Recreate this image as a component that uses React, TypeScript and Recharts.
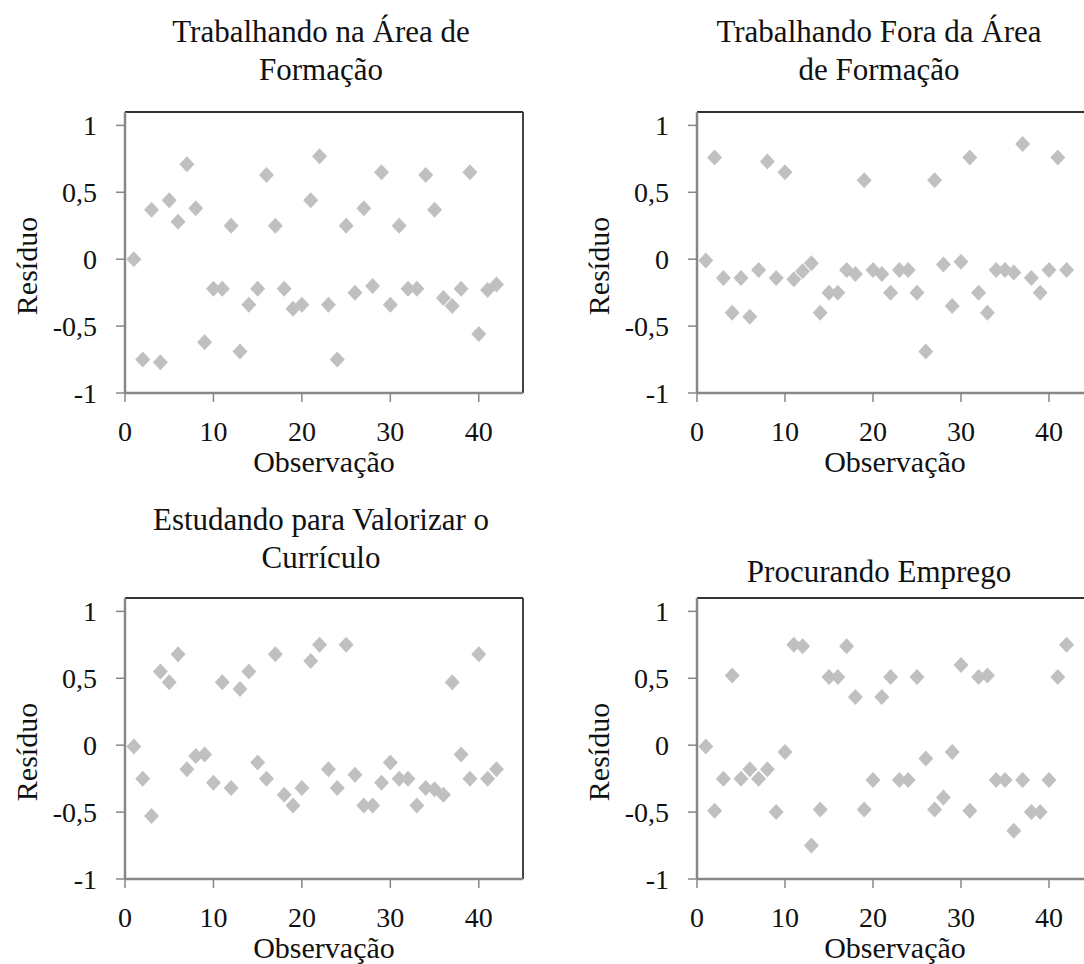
import { ScatterChart, Scatter, XAxis, YAxis, ReferenceLine, Label } from 'recharts';

// observation number (1..42), shared by the four panels
const OBS = [
  1, 2, 3, 4, 5, 6, 7, 8, 9, 10, 11, 12, 13, 14, 15, 16, 17, 18, 19, 20, 21,
  22, 23, 24, 25, 26, 27, 28, 29, 30, 31, 32, 33, 34, 35, 36, 37, 38, 39, 40, 41, 42,
];

const RES_AREA = [
  0, -0.75, 0.37, -0.77, 0.44, 0.28, 0.71, 0.38, -0.62, -0.22,
  -0.22, 0.25, -0.69, -0.34, -0.22, 0.63, 0.25, -0.22, -0.37, -0.34,
  0.44, 0.77, -0.34, -0.75, 0.25, -0.25, 0.38, -0.2, 0.65, -0.34,
  0.25, -0.22, -0.22, 0.63, 0.37, -0.29, -0.35, -0.22, 0.65, -0.56,
  -0.23, -0.19,
];

const RES_FORA = [
  -0.01, 0.76, -0.14, -0.4, -0.14, -0.43, -0.08, 0.73, -0.14, 0.65,
  -0.15, -0.09, -0.03, -0.4, -0.25, -0.25, -0.08, -0.11, 0.59, -0.08,
  -0.11, -0.25, -0.08, -0.08, -0.25, -0.69, 0.59, -0.04, -0.35, -0.02,
  0.76, -0.25, -0.4, -0.08, -0.08, -0.1, 0.86, -0.14, -0.25, -0.08,
  0.76, -0.08,
];

const RES_ESTUDO = [
  -0.01, -0.25, -0.53, 0.55, 0.47, 0.68, -0.18, -0.08, -0.07, -0.28,
  0.47, -0.32, 0.42, 0.55, -0.13, -0.25, 0.68, -0.37, -0.45, -0.32,
  0.63, 0.75, -0.18, -0.32, 0.75, -0.22, -0.45, -0.45, -0.28, -0.13,
  -0.25, -0.25, -0.45, -0.32, -0.33, -0.37, 0.47, -0.07, -0.25, 0.68,
  -0.25, -0.18,
];

const RES_PROCURA = [
  -0.01, -0.49, -0.25, 0.52, -0.25, -0.18, -0.25, -0.18, -0.5, -0.05,
  0.75, 0.74, -0.75, -0.48, 0.51, 0.51, 0.74, 0.36, -0.48, -0.26,
  0.36, 0.51, -0.26, -0.26, 0.51, -0.1, -0.48, -0.39, -0.05, 0.6,
  -0.49, 0.51, 0.52, -0.26, -0.26, -0.64, -0.26, -0.5, -0.5, -0.26,
  0.51, 0.75,
];

const X_TICKS = [0, 10, 20, 30, 40];
const Y_TICKS = [-1, -0.5, 0, 0.5, 1];

const FONT = '"Liberation Serif", "Times New Roman", serif';
const AXIS = '#878787';
const MARKER = '#c0c0c0';

const fmt = (v: number) => String(v).replace('.', ',');

const Diamond = (props: any) => {
  const { cx, cy } = props;
  if (cx == null || cy == null) return null;
  return (
    <polygon
      points={`${cx},${cy - 8} ${cx + 7.5},${cy} ${cx},${cy + 8} ${cx - 7.5},${cy}`}
      fill={MARKER}
    />
  );
};

const ResiduoLabel = () => (
  <text
    x={26}
    y={266}
    transform="rotate(-90 26 266)"
    textAnchor="middle"
    dominantBaseline="central"
    fontFamily={FONT}
    fontSize={30}
    fill="#111"
  >
    Resíduo
  </text>
);

interface PanelProps {
  title: string[];
  values: number[];
  left: number;
  top: number;
  width: number;
  rightMargin: number;
  titleTop: number;
  titleCenter: number;
}

function Panel({ title, values, left, top, width, rightMargin, titleTop, titleCenter }: PanelProps) {
  const data = OBS.map((x, i) => ({ x, y: values[i] }));
  return (
    <>
      <div
        style={{
          position: 'absolute',
          left: titleCenter - 250,
          top: titleTop,
          width: 500,
          textAlign: 'center',
          fontFamily: FONT,
          fontSize: 31,
          lineHeight: '38px',
          color: '#111',
        }}
      >
        {title.map((t) => (
          <div key={t}>{t}</div>
        ))}
      </div>
      <div style={{ position: 'absolute', left, top }}>
        <ScatterChart
          width={width}
          height={480}
          margin={{ top: 112, right: rightMargin, bottom: 0, left: 0 }}
        >
          <XAxis
            type="number"
            dataKey="x"
            domain={[0, 45]}
            ticks={X_TICKS}
            height={87}
            axisLine={{ stroke: AXIS, strokeWidth: 2.5 }}
            tickLine={{ stroke: AXIS, strokeWidth: 1.5 }}
            tickSize={9}
            tickMargin={19}
            tick={{ fill: '#111', fontSize: 28, fontFamily: FONT }}
          >
            <Label
              value="Observação"
              position="insideBottom"
              offset={8}
              style={{ fill: '#111', fontSize: 30, fontFamily: FONT }}
            />
          </XAxis>
          <YAxis
            type="number"
            dataKey="y"
            domain={[-1, 1.1]}
            ticks={Y_TICKS}
            width={125}
            allowDataOverflow
            axisLine={{ stroke: AXIS, strokeWidth: 2.5 }}
            tickLine={{ stroke: AXIS, strokeWidth: 1.5 }}
            tickSize={9}
            tickMargin={19}
            tickFormatter={fmt}
            tick={{ fill: '#111', fontSize: 28, fontFamily: FONT }}
          >
            <Label content={<ResiduoLabel />} />
          </YAxis>
          <ReferenceLine y={1.1} stroke="#333" strokeWidth={2} />
          <ReferenceLine x={45} stroke="#444" strokeWidth={2} />
          <Scatter data={data} shape={Diamond} isAnimationActive={false} />
        </ScatterChart>
      </div>
    </>
  );
}

export default function App() {
  return (
    <div
      style={{
        position: 'absolute',
        left: 0,
        top: 0,
        width: 1084,
        height: 964,
        overflow: 'hidden',
        background: '#fff',
      }}
    >
      <Panel
        title={['Trabalhando na Área de', 'Formação']}
        values={RES_AREA}
        left={0}
        top={0}
        width={541}
        rightMargin={18}
        titleTop={13}
        titleCenter={321}
      />
      <Panel
        title={['Trabalhando Fora da Área', 'de Formação']}
        values={RES_FORA}
        left={572}
        top={0}
        width={542}
        rightMargin={21}
        titleTop={13}
        titleCenter={879}
      />
      <Panel
        title={['Estudando para Valorizar o', 'Currículo']}
        values={RES_ESTUDO}
        left={0}
        top={486}
        width={541}
        rightMargin={18}
        titleTop={501}
        titleCenter={321}
      />
      <Panel
        title={['Procurando Emprego']}
        values={RES_PROCURA}
        left={572}
        top={486}
        width={542}
        rightMargin={21}
        titleTop={553}
        titleCenter={879}
      />
    </div>
  );
}
